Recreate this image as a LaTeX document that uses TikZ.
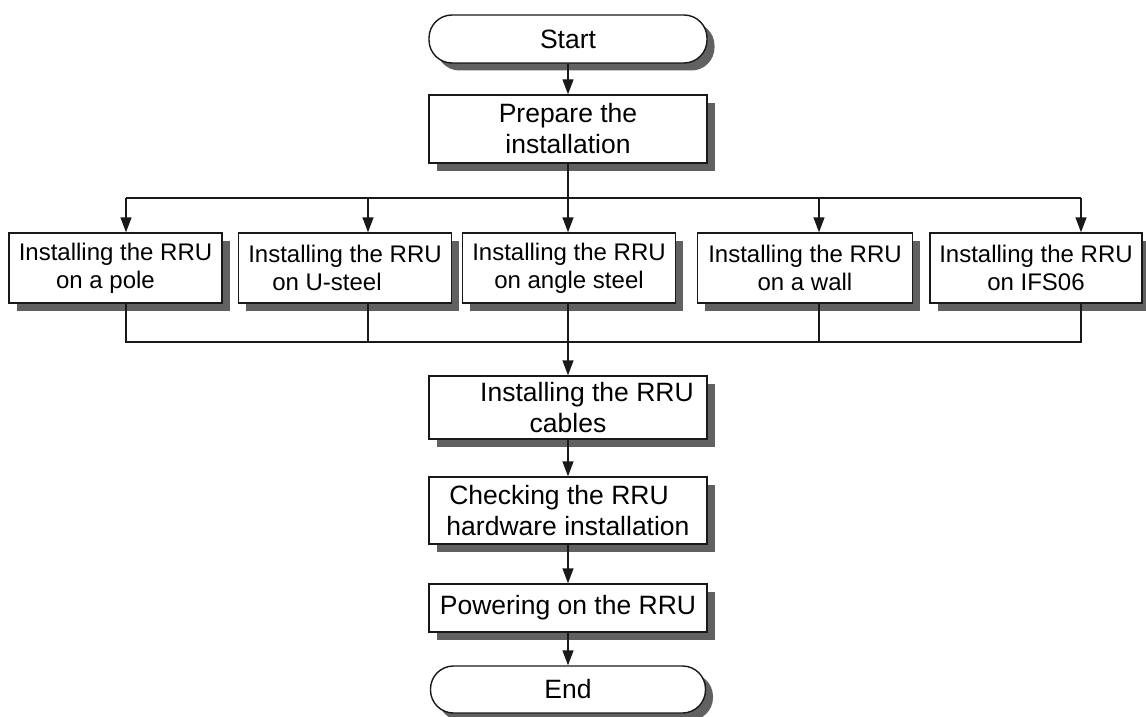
\documentclass[tikz,border=0pt]{standalone}
\usepackage{fontspec}
\setmainfont{Liberation Sans}
\usetikzlibrary{arrows.meta,shadows}
\begin{document}
\begin{tikzpicture}[x=1pt,y=-1pt,
  shadowed/.style={drop shadow={shadow xshift=7.5pt,shadow yshift=-7.5pt,fill=black!62,opacity=1}},
  box/.style={draw=black!90,line width=1.4pt,fill=white,shadowed,inner sep=0pt,align=center,text=black},
  colbox/.style={box,minimum width=278pt,font=\fontsize{26.5}{31}\selectfont},
  rowbox/.style={box,minimum width=213pt,minimum height=70pt,font=\fontsize{24}{28}\selectfont},
  term/.style={colbox,rounded corners=23pt,minimum height=48pt},
  conn/.style={draw=black!90,line width=1.4pt},
  arr/.style={conn,-{Triangle[length=15pt,width=11pt]}}]
\useasboundingbox (0,0) rectangle (1146,717);
% column nodes
\node[term] (start) at (568,39) {Start};
\node[colbox,minimum height=68pt] (prep) at (568,129) {Prepare the\\installation};
% row nodes
\node[rowbox] (r1) at (115.5,268) {Installing the RRU\\on a pole\hspace*{20pt}};
\node[rowbox] (r2) at (345,268) {Installing the RRU\\on U-steel\hspace*{36pt}};
\node[rowbox] (r3) at (569,268) {Installing the RRU\\on angle steel};
\node[rowbox,minimum width=215pt] (r4) at (805,268) {Installing the RRU\\on a wall};
\node[rowbox,minimum width=212pt] (r5) at (1036,268) {Installing the RRU\\on IFS06};
% lower column
\node[colbox,minimum height=63pt] (cab) at (568,407.5) {\hspace*{38pt}Installing the RRU\\cables};
\node[colbox,minimum height=67pt] (chk) at (568,510.5) {Checking the RRU\hspace*{18pt}\\hardware installation};
\node[colbox,minimum height=48pt] (pow) at (568,608) {Powering on the RRU};
\node[term,minimum width=275pt,minimum height=47pt] (end) at (568,689.5) {End};
% split / merge points
\coordinate (split) at (568,198);
\coordinate (merge) at (568,342);
\coordinate (a1) at (126,0);
\coordinate (a2) at (368,0);
\coordinate (a4) at (819,0);
\coordinate (a5) at (1081,0);
% connectors
\draw[arr] (start.south) -- (prep.north);
\draw[arr] (prep.south) -- (prep.south |- r3.north);
\draw[conn] (a1 |- split) -- (a5 |- split);
\draw[arr] (a1 |- split) -- (a1 |- r1.north);
\draw[arr] (a2 |- split) -- (a2 |- r2.north);
\draw[arr] (a4 |- split) -- (a4 |- r4.north);
\draw[arr] (a5 |- split) -- (a5 |- r5.north);
\draw[conn] (a1 |- r1.south) -- (a1 |- merge) -- (a5 |- merge) -- (a5 |- r5.south);
\draw[conn] (a2 |- r2.south) -- (a2 |- merge);
\draw[conn] (a4 |- r4.south) -- (a4 |- merge);
\draw[arr] (merge |- r3.south) -- (cab.north);
\draw[arr] (cab.south) -- (chk.north);
\draw[arr] (chk.south) -- (pow.north);
\draw[arr] (pow.south) -- (end.north);
\end{tikzpicture}
\end{document}
